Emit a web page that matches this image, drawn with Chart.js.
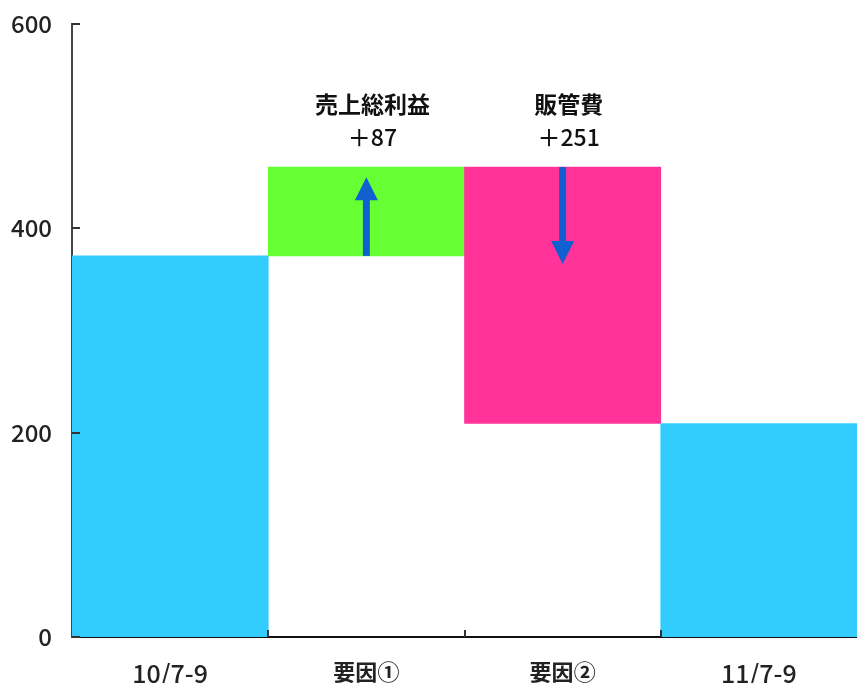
<!DOCTYPE html>
<html>
<head>
<meta charset="utf-8">
<script src="https://cdn.jsdelivr.net/npm/chart.js@4"></script>
<style>
  html, body { margin: 0; padding: 0; background: #fff; }
  #wrap { width: 857px; height: 683px; }
</style>
</head>
<body>
<div id="wrap"><canvas id="chart-waterfall"></canvas></div>
<script>
{ // scoping

  // categories + floating bar ranges (start, end)
  const labels = ['10/7-9', '要因①', '要因②', '11/7-9'];
  const barStart = [0, 373, 209, 0];
  const barEnd = [373, 460, 460, 209];
  const barColors = ['#33ccff', '#66ff33', '#ff3399', '#33ccff'];

  // annotations above the factor bars
  const annoTitles = ['', '売上総利益', '販管費', ''];
  const annoValues = ['', '＋87', '＋251', ''];

  // arrows (from -> to, in data units)
  const arrowFrom = [null, 373, 460, null];
  const arrowTo = [null, 450, 365, null];

  const yTicks = [0, 200, 400, 600];

  const jpFont = '"Noto Sans CJK JP", "Noto Sans", sans-serif';

  const extras = {
    id: 'extras',
    afterDatasetsDraw(chart) {
      const { ctx } = chart;
      const x = chart.scales.x, y = chart.scales.y;

      // blue arrows
      ctx.save();
      ctx.fillStyle = '#1060d0';
      ctx.strokeStyle = '#1060d0';
      arrowFrom.forEach((from, i) => {
        if (from === null) return;
        const cx = x.getPixelForValue(i);
        const y0 = y.getPixelForValue(from);
        const y1 = y.getPixelForValue(arrowTo[i]);
        const dir = y1 < y0 ? -1 : 1;
        const head = 23;
        ctx.lineWidth = 7;
        ctx.beginPath();
        ctx.moveTo(cx, y0);
        ctx.lineTo(cx, y1 - dir * head * 0.8);
        ctx.stroke();
        ctx.beginPath();
        ctx.moveTo(cx, y1);
        ctx.lineTo(cx - 11.5, y1 - dir * head);
        ctx.lineTo(cx + 11.5, y1 - dir * head);
        ctx.closePath();
        ctx.fill();
      });
      ctx.restore();

      // labels above the bars
      ctx.save();
      ctx.fillStyle = '#111';
      ctx.textAlign = 'center';
      ctx.textBaseline = 'middle';
      annoTitles.forEach((t, i) => {
        if (!t) return;
        const cx = x.getPixelForValue(i) + 6;
        const top = y.getPixelForValue(barEnd[i]);
        ctx.font = 'bold 23px ' + jpFont;
        ctx.fillText(t, cx, top - 63);
        ctx.font = '500 23px ' + jpFont;
        ctx.fillText(annoValues[i], cx, top - 30);
      });
      ctx.restore();

      // inward tick marks
      ctx.save();
      ctx.strokeStyle = '#333';
      ctx.lineWidth = 2;
      const left = chart.chartArea.left, bottom = chart.chartArea.bottom;
      yTicks.forEach(v => {
        const py = Math.round(y.getPixelForValue(v));
        ctx.beginPath();
        ctx.moveTo(left, py);
        ctx.lineTo(left + 8, py);
        ctx.stroke();
      });
      for (let i = 1; i < labels.length; i++) {
        const px = Math.round((x.getPixelForValue(i - 1) + x.getPixelForValue(i)) / 2);
        ctx.beginPath();
        ctx.moveTo(px, bottom);
        ctx.lineTo(px, bottom - 7);
        ctx.stroke();
      }
      ctx.restore();
    }
  };

  const ctx = document.getElementById('chart-waterfall').getContext('2d');

  const myChart = new Chart(ctx, {
    type: 'bar',
    data: {
      labels: labels,
      datasets: [{
        data: barStart.map((s, i) => [s, barEnd[i]]),
        backgroundColor: barColors,
        borderWidth: 0,
        barPercentage: 1,
        categoryPercentage: 1
      }]
    },
    options: {
      responsive: true,
      maintainAspectRatio: false,
      animation: false,
      layout: { padding: { top: 24, right: 0, left: 0, bottom: 0 } },
      plugins: {
        legend: { display: false },
        tooltip: { enabled: false }
      },
      scales: {
        x: {
          grid: { display: false, drawTicks: false },
          border: { display: true, color: '#111', width: 2 },
          ticks: {
            color: '#222',
            padding: 21,
            font: c => ({
              family: jpFont,
              size: c.index === 1 || c.index === 2 ? 22 : 25,
              weight: c.index === 1 || c.index === 2 ? 'bold' : '500'
            })
          },
          afterFit: s => { s.height = 46; s.paddingLeft = 0; s.paddingRight = 0; }
        },
        y: {
          min: 0,
          max: 600,
          afterBuildTicks: s => { s.ticks = yTicks.map(v => ({ value: v })); },
          grid: { display: false, drawTicks: false },
          border: { display: true, color: '#444', width: 2 },
          ticks: {
            color: '#222',
            padding: 20,
            font: { family: jpFont, size: 24, weight: '500' }
          },
          afterFit: s => { s.width = 72; s.paddingTop = 0; s.paddingBottom = 0; }
        }
      }
    },
    plugins: [extras]
  });

} // scoping
</script>
</body>
</html>
